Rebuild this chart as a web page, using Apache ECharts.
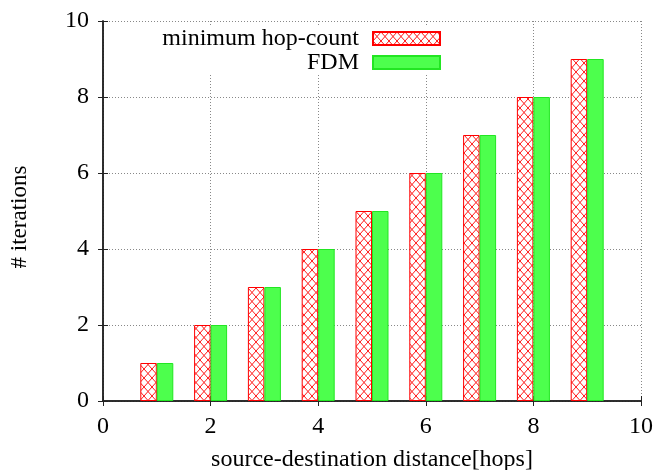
<!DOCTYPE html>
<html>
<head>
<meta charset="utf-8">
<script src="https://cdn.jsdelivr.net/npm/echarts@6/dist/echarts.min.js"></script>
<style>html,body{margin:0;padding:0;background:#fff}#c{width:659px;height:470px}</style>
</head>
<body>
<div id="c"></div>
<script>
var distances = [1, 2, 3, 4, 5, 6, 7, 8, 9];
var hopCount = [1, 2, 3, 4, 5, 6, 7, 8, 9];
var fdm = [1, 2, 3, 4, 5, 6, 7, 8, 9];
var seriesNames = ['minimum hop-count', 'FDM'];
var xTitle = 'source-destination distance[hops]';
var yTitle = '# iterations';

function hatch() {
  var c = document.createElement('canvas');
  c.width = 8; c.height = 9;
  var g = c.getContext('2d');
  g.fillStyle = '#ffffff';
  g.fillRect(0, 0, 8, 9);
  g.strokeStyle = '#ff1a1a';
  g.lineWidth = 1;
  g.beginPath();
  g.moveTo(0, 0); g.lineTo(8, 9);
  g.moveTo(8, 0); g.lineTo(0, 9);
  g.stroke();
  return c;
}

var FONT = 'Liberation Serif';
var chart = echarts.init(document.getElementById('c'), null, {renderer: 'canvas'});
var frame = {show: true, lineStyle: {color: '#222', width: 1.5}};
var tick = {show: true, inside: true, length: 5, lineStyle: {color: '#222', width: 1}};
chart.setOption({
  animation: false,
  grid: {left: 103, right: 18, top: 21, bottom: 69, containLabel: false, outerBoundsMode: 'none'},
  legend: {
    orient: 'vertical', align: 'right', right: 208, top: 25.5,
    padding: [1, 10, 0, 10], itemGap: 0, itemWidth: 67, itemHeight: 13,
    backgroundColor: '#ffffff', icon: 'rect',
    textStyle: {fontFamily: FONT, fontSize: 24, color: '#000', padding: [0, 9, 0, 0]},
    data: seriesNames
  },
  xAxis: [{
    type: 'value', min: 0, max: 10, interval: 2, position: 'bottom',
    name: xTitle, nameLocation: 'middle', nameGap: 47,
    nameTextStyle: {fontFamily: FONT, fontSize: 24, color: '#000'},
    axisLine: frame, axisTick: tick,
    axisLabel: {fontFamily: FONT, fontSize: 24, color: '#000', margin: 14},
    splitLine: {show: true, lineStyle: {color: '#888', width: 1, type: [1, 2]}}
  }, {
    type: 'value', min: 0, max: 10, interval: 2, position: 'top',
    axisLine: frame, axisTick: tick, axisLabel: {show: false}, splitLine: {show: false}
  }],
  yAxis: [{
    type: 'value', min: 0, max: 10, interval: 2, position: 'left',
    name: yTitle, nameLocation: 'middle', nameGap: 72,
    nameTextStyle: {fontFamily: FONT, fontSize: 23, color: '#000', padding: [0, 12, 0, 0]},
    axisLine: frame, axisTick: tick,
    axisLabel: {fontFamily: FONT, fontSize: 24, color: '#000', margin: 14},
    splitLine: {show: true, lineStyle: {color: '#888', width: 1, type: [1, 2]}}
  }, {
    type: 'value', min: 0, max: 10, interval: 2, position: 'right',
    axisLine: frame, axisTick: tick, axisLabel: {show: false}, splitLine: {show: false}
  }],
  series: [{
    name: seriesNames[0], type: 'bar', barWidth: 16.5, barGap: '0%',
    itemStyle: {color: {image: hatch(), repeat: 'repeat'}, borderColor: '#ff0000', borderWidth: 1},
    data: distances.map(function (d, i) { return [d, hopCount[i]]; })
  }, {
    name: seriesNames[1], type: 'bar', barWidth: 16.5, barGap: '0%',
    itemStyle: {color: '#4dff4d', borderColor: '#22e622', borderWidth: 1},
    data: distances.map(function (d, i) { return [d, fdm[i]]; })
  }]
});
</script>
</body>
</html>
